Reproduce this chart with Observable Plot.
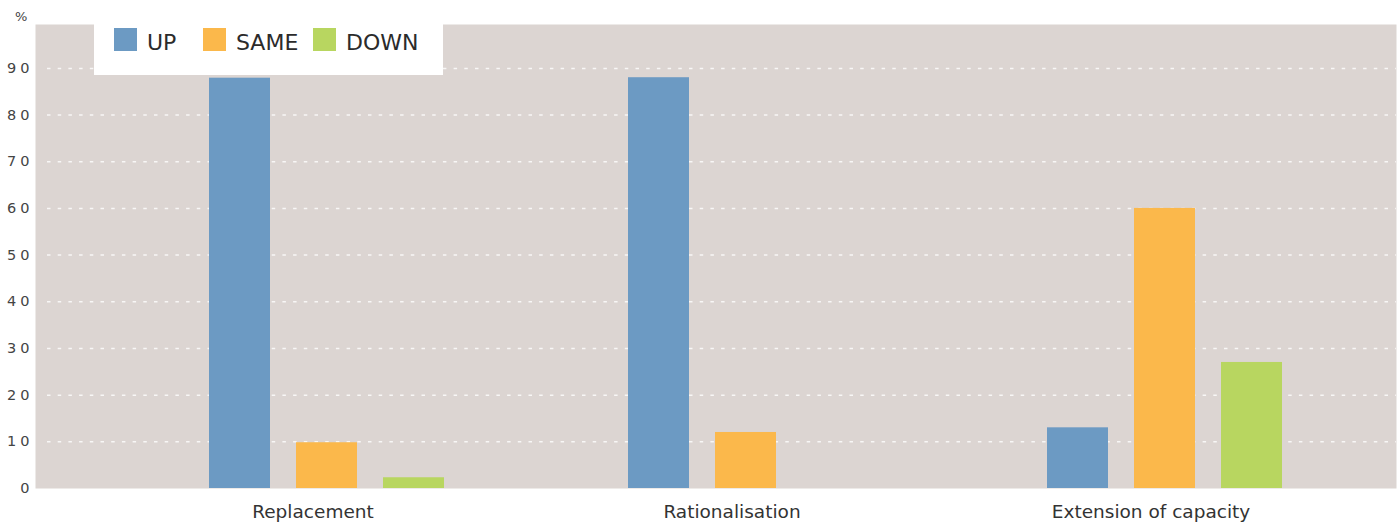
<!DOCTYPE html>
<html>
<head>
<meta charset="utf-8">
<script src="https://cdn.jsdelivr.net/npm/d3@7"></script>
<script src="https://cdn.jsdelivr.net/npm/@observablehq/plot@0.6"></script>
<style>
  body { margin: 0; background: #fff; font-family: "DejaVu Sans", sans-serif; }
  #wrap { position: relative; width: 1399px; height: 522px; }
  #pct { position: absolute; left: 15px; top: 9px; font-size: 13px; color: #444; }
  #legend { position: absolute; left: 94px; top: 24px; width: 349px; height: 51px; background: #fff; }
  .item { position: absolute; top: 0; display: flex; align-items: flex-start; }
  .sw { width: 23px; height: 23px; margin-top: 4px; }
  .lab { font-size: 22px; line-height: 22px; margin-top: 8px; margin-left: 10px; color: #2b2b2b; }
  [aria-label="y-axis tick label"] text { letter-spacing: 4px; }
</style>
</head>
<body>
<div id="wrap">
  <div id="chart"></div>
  <div id="pct">%</div>
  <div id="legend"></div>
</div>
<script>
const categories = ["Replacement", "Rationalisation", "Extension of capacity"];
const seriesNames = ["UP", "SAME", "DOWN"];
const upValues = [87.9, 88, 13];
const sameValues = [9.8, 12, 60];
const downValues = [2.3, 0, 27];
const seriesColors = ["#6c9ac3", "#fbb84b", "#b8d660"];
const yTicks = [0, 10, 20, 30, 40, 50, 60, 70, 80, 90];

const seriesValues = [upValues, sameValues, downValues];
const offsets = [-87, 0, 87];

const plot = Plot.plot({
  width: 1399,
  height: 522,
  marginLeft: 35,
  marginRight: 3,
  marginTop: 24,
  marginBottom: 34,
  style: { fontFamily: "DejaVu Sans", background: "transparent" },
  x: { domain: categories, paddingInner: 0.8544, paddingOuter: 0.5513, align: 0.565, axis: null },
  y: { domain: [0, 99.4], axis: null },
  marks: [
    Plot.frame({ fill: "#dcd5d2", stroke: null }),
    Plot.ruleY(yTicks.filter(d => d > 0), { stroke: "#ffffff", strokeOpacity: 0.8, strokeWidth: 1.5, strokeDasharray: "3.5,7.2", insetLeft: 12 }),
    ...seriesValues.map((vals, i) =>
      Plot.barY(categories, { x: d => d, y: vals, fill: seriesColors[i], dx: offsets[i] })
    ),
    Plot.axisY({ ticks: yTicks, tickSize: 0, tickPadding: 2, fontSize: 14.5, fill: "#444", label: null }),
    Plot.axisX({ tickSize: 0, tickPadding: 16, fontSize: 18.5, fill: "#333", dx: -14, label: null })
  ]
});
document.getElementById("chart").appendChild(plot);

const legend = document.getElementById("legend");
const itemLefts = [20, 109, 219];
seriesNames.forEach((name, i) => {
  const it = document.createElement("div");
  it.className = "item";
  it.style.left = itemLefts[i] + "px";
  const sw = document.createElement("div");
  sw.className = "sw";
  sw.style.background = seriesColors[i];
  const lab = document.createElement("div");
  lab.className = "lab";
  lab.textContent = name;
  it.appendChild(sw);
  it.appendChild(lab);
  legend.appendChild(it);
});
</script>
</body>
</html>
